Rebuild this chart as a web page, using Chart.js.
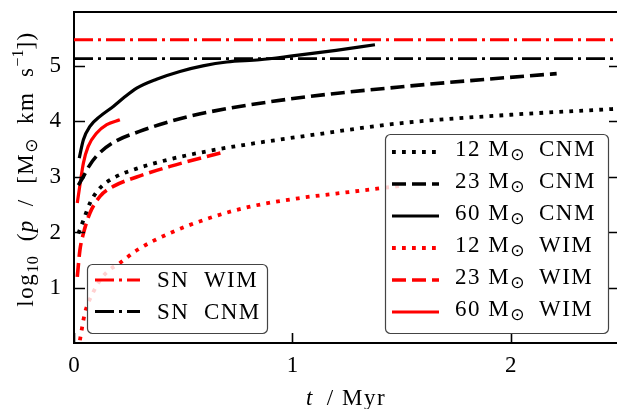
<!DOCTYPE html>
<html>
<head>
<meta charset="utf-8">
<script src="https://cdn.jsdelivr.net/npm/chart.js@4.4.1/dist/chart.umd.min.js"></script>
<style>
  html, body { margin: 0; padding: 0; background: #fff; overflow: hidden; }
  #wrap { width: 617px; height: 409px; overflow: hidden; }
  #chart { display: block; }
</style>
</head>
<body>
<div id="wrap"><canvas id="chart" width="621" height="409"></canvas></div>
<script>
// --- data (t in Myr, log10 p) ---
const tCnm12 = [0.02, 0.043, 0.073, 0.119, 0.18, 0.287, 0.44, 0.62, 0.8, 1.08, 1.5, 2.0, 2.5];
const pCnm12 = [1.98, 2.22, 2.53, 2.8, 2.98, 3.15, 3.32, 3.47, 3.59, 3.75, 3.97, 4.12, 4.23];

const tCnm23 = [0.02, 0.035, 0.07, 0.104, 0.18, 0.3, 0.516, 0.73, 1.08, 1.49, 1.8, 2.21];
const pCnm23 = [2.85, 2.95, 3.2, 3.38, 3.62, 3.82, 4.08, 4.25, 4.45, 4.62, 4.73, 4.86];

const tCnm60 = [0.024, 0.043, 0.073, 0.119, 0.18, 0.226, 0.287, 0.378, 0.485, 0.59, 0.7, 0.85, 1.0, 1.2, 1.378];
const pCnm60 = [3.34, 3.67, 3.91, 4.09, 4.27, 4.42, 4.6, 4.76, 4.9, 5.0, 5.07, 5.11, 5.18, 5.28, 5.38];

const tWim12 = [0.027, 0.05, 0.085, 0.119, 0.16, 0.21, 0.287, 0.44, 0.62, 0.8, 1.034, 1.2, 1.41, 1.5];
const pWim12 = [0.06, 0.55, 0.9, 1.14, 1.32, 1.45, 1.68, 1.99, 2.26, 2.46, 2.62, 2.7, 2.8, 2.84];

const tWim23 = [0.015, 0.027, 0.043, 0.073, 0.119, 0.18, 0.287, 0.44, 0.68];
const pWim23 = [1.2, 1.68, 1.98, 2.35, 2.65, 2.83, 3.0, 3.19, 3.44];

const tWim60 = [0.015, 0.027, 0.043, 0.065, 0.104, 0.15, 0.21];
const pWim60 = [2.53, 2.85, 3.25, 3.55, 3.79, 3.94, 4.03];

const tSn = [0, 2.5];
const snWim = 5.47;
const snCnm = 5.13;

const xTicks = [0, 1, 2];
const yTicks = [1, 2, 3, 4, 5];

const RED = "#ff0000";
const BLACK = "#000000";
const SERIF = "'Liberation Serif', 'DejaVu Serif', serif";
const FS = 23;

const DOT = [3.8, 6.2];
const DASH = [14, 6];
const DASHDOT = [19, 5, 3, 5];

function pts(t, p) {
  return t.map((v, i) => ({ x: v, y: Array.isArray(p) ? p[i] : p }));
}

function series(label, t, p, color, dash, width) {
  return {
    label: label,
    data: pts(t, p),
    borderColor: color,
    backgroundColor: color,
    borderWidth: width,
    borderDash: dash,
    borderCapStyle: "butt",
    pointRadius: 0,
    fill: false,
    cubicInterpolationMode: "monotone",
  };
}

const datasets = [
  series("12 CNM", tCnm12, pCnm12, BLACK, DOT, 3.8),
  series("23 CNM", tCnm23, pCnm23, BLACK, DASH, 3.6),
  series("60 CNM", tCnm60, pCnm60, BLACK, [], 3.2),
  series("12 WIM", tWim12, pWim12, RED, DOT, 3.8),
  series("23 WIM", tWim23, pWim23, RED, DASH, 3.6),
  series("60 WIM", tWim60, pWim60, RED, [], 3.2),
  series("SN WIM", tSn, snWim, RED, DASHDOT, 2.8),
  series("SN CNM", tSn, snCnm, BLACK, DASHDOT, 2.8),
];

// draw text made of parts (sub / superscripts)
function drawRich(ctx, parts, x, y, align) {
  let total = 0;
  parts.forEach((p) => {
    ctx.font = p.font;
    ctx.letterSpacing = (p.ls || 0) + "px";
    total += ctx.measureText(p.t).width;
  });
  let cx = align === "center" ? x - total / 2 : x;
  parts.forEach((p) => {
    ctx.font = p.font;
    ctx.letterSpacing = (p.ls || 0) + "px";
    ctx.fillText(p.t, cx, y + (p.dy || 0));
    cx += ctx.measureText(p.t).width;
  });
  ctx.letterSpacing = "0px";
}

const big = FS + "px " + SERIF;
const small = "16px " + SERIF;
const sunFont = "17px 'DejaVu Sans'";
const LS = 1.5;

function massLabel(mass, medium) {
  return [
    { t: mass + " M", font: big, ls: LS },
    { t: "\u2299", font: sunFont, dy: 4 },
    { t: "  " + medium, font: big, ls: LS },
  ];
}

// legend boxes live inside the axes
const legends = [
  { box: [87, 264, 180, 69], rows: [[6, "SN WIM"], [7, "SN CNM"]], y0: 280, gap: 31.5, lx: [95, 140], tx: 157 },
  {
    box: [385, 134, 223, 199],
    rows: [[0, "12|CNM"], [1, "23|CNM"], [2, "60|CNM"], [3, "12|WIM"], [4, "23|WIM"], [5, "60|WIM"]],
    y0: 152, gap: 32, lx: [392, 439], tx: 455,
  },
];

function roundRect(ctx, x, y, w, h, r) {
  ctx.beginPath();
  ctx.moveTo(x + r, y);
  ctx.arcTo(x + w, y, x + w, y + h, r);
  ctx.arcTo(x + w, y + h, x, y + h, r);
  ctx.arcTo(x, y + h, x, y, r);
  ctx.arcTo(x, y, x + w, y, r);
  ctx.closePath();
}

const overlay = {
  id: "overlay",
  afterDraw(chart) {
    const ctx = chart.ctx;
    const a = chart.chartArea;
    const xs = chart.scales.x;
    const ys = chart.scales.y;
    ctx.save();

    // top / right spines + inward ticks
    ctx.strokeStyle = BLACK;
    ctx.lineWidth = 2;
    ctx.beginPath();
    ctx.moveTo(a.left - 1, a.top);
    ctx.lineTo(a.right + 1, a.top);
    ctx.moveTo(a.right, a.top);
    ctx.lineTo(a.right, a.bottom);
    ctx.stroke();

    ctx.lineWidth = 1.6;
    ctx.beginPath();
    yTicks.forEach((v) => {
      const py = Math.round(ys.getPixelForValue(v)) + 0.5;
      ctx.moveTo(a.left, py);
      ctx.lineTo(a.left + 11, py);
      ctx.moveTo(a.right, py);
      ctx.lineTo(a.right - 11, py);
    });
    xTicks.forEach((v) => {
      const px = Math.round(xs.getPixelForValue(v)) + 0.5;
      ctx.moveTo(px, a.bottom);
      ctx.lineTo(px, a.bottom - 10);
    });
    ctx.stroke();

    // legends
    ctx.textBaseline = "alphabetic";
    ctx.textAlign = "left";
    legends.forEach((lg) => {
      const [bx, by, bw, bh] = lg.box;
      roundRect(ctx, bx + 0.5, by + 0.5, bw, bh, 5);
      ctx.fillStyle = "rgba(255,255,255,0.82)";
      ctx.fill();
      ctx.strokeStyle = "#444";
      ctx.lineWidth = 1.2;
      ctx.stroke();

      lg.rows.forEach(([idx, text], i) => {
        const ds = chart.data.datasets[idx];
        const ly = lg.y0 + i * lg.gap;
        ctx.strokeStyle = ds.borderColor;
        ctx.lineWidth = ds.borderWidth;
        ctx.lineCap = "butt";
        ctx.setLineDash(ds.borderDash);
        ctx.beginPath();
        ctx.moveTo(lg.lx[0], ly);
        ctx.lineTo(lg.lx[1], ly);
        ctx.stroke();
        ctx.setLineDash([]);

        ctx.fillStyle = BLACK;
        if (text.indexOf("|") >= 0) {
          const [m, med] = text.split("|");
          drawRich(ctx, massLabel(m, med), lg.tx, ly + 4, "left");
        } else {
          drawRich(ctx, [{ t: text.replace(" ", "  "), font: big, ls: LS }], lg.tx, ly + 7, "left");
        }
      });
    });

    // axis titles
    ctx.fillStyle = BLACK;
    drawRich(ctx, [
      { t: "t", font: "italic " + big },
      { t: "  / Myr", font: big, ls: LS },
    ], (a.left + a.right) / 2 - 1, 405, "center");

    ctx.translate(33, 169);
    ctx.rotate(-Math.PI / 2);
    drawRich(ctx, [
      { t: "log", font: big, ls: LS },
      { t: "10", font: small, dy: 5, ls: 0.5 },
      { t: "  (", font: big, ls: LS },
      { t: "p", font: "italic " + big },
      { t: "  /  [M", font: big, ls: LS },
      { t: "\u2299", font: sunFont, dy: 4 },
      { t: "  km  s", font: big, ls: LS },
      { t: "\u22121", font: small, dy: -10 },
      { t: "])", font: big, ls: LS },
    ], 0, 0, "center");

    ctx.restore();
  },
};

const tickFont = { family: SERIF, size: FS };

new Chart(document.getElementById("chart"), {
  type: "line",
  data: { datasets: datasets },
  options: {
    responsive: false,
    animation: false,
    events: [],
    layout: { padding: { top: 12, right: 1, left: 0, bottom: 0 } },
    plugins: { legend: { display: false }, tooltip: { enabled: false } },
    scales: {
      x: {
        type: "linear",
        min: 0,
        max: 2.5,
        afterFit: (s) => { s.height = 66; s.paddingLeft = 0; s.paddingRight = 0; },
        afterBuildTicks: (s) => { s.ticks = xTicks.map((v) => ({ value: v })); },
        grid: { display: false, drawTicks: false },
        border: { display: true, color: BLACK, width: 2 },
        ticks: { color: BLACK, font: tickFont, padding: 9, maxRotation: 0, callback: (v) => String(v) },
      },
      y: {
        type: "linear",
        min: 0.01,
        max: 5.97,
        afterFit: (s) => { s.width = 74; s.paddingTop = 0; s.paddingBottom = 0; },
        afterBuildTicks: (s) => { s.ticks = yTicks.map((v) => ({ value: v })); },
        grid: { display: false, drawTicks: false },
        border: { display: true, color: BLACK, width: 2 },
        ticks: { color: BLACK, font: tickFont, padding: 13, callback: (v) => String(v) },
      },
    },
  },
  plugins: [overlay],
});
</script>
</body>
</html>
